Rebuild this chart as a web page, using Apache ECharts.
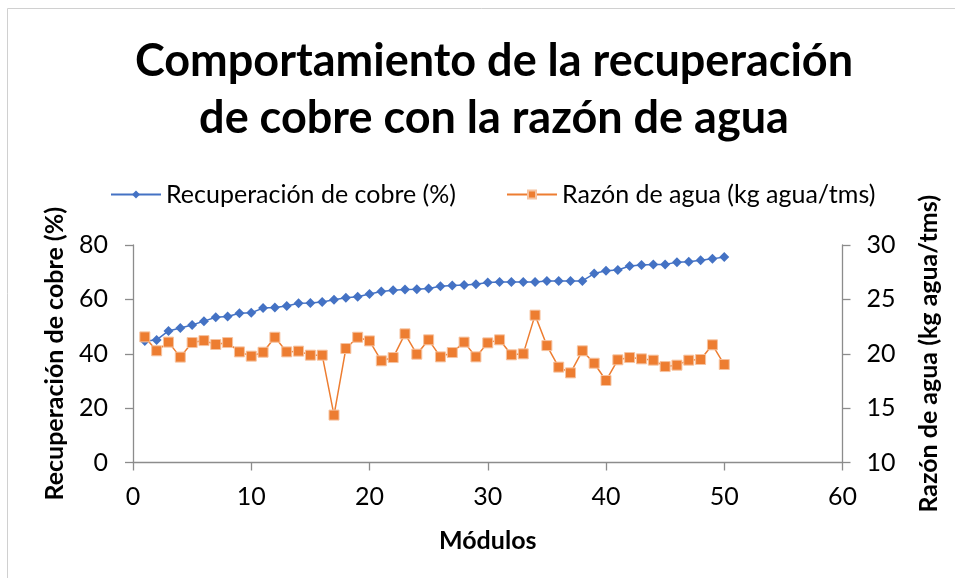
<!DOCTYPE html>
<html>
<head>
<meta charset="utf-8">
<script src="https://cdn.jsdelivr.net/npm/echarts@6/dist/echarts.min.js"></script>
<style>
  html, body { margin: 0; padding: 0; background: #fff; }
  #chart { width: 955px; height: 578px; }
</style>
</head>
<body>
<div id="chart"></div>
<script>
// Módulos 1..50
const modulos = [1,2,3,4,5,6,7,8,9,10,11,12,13,14,15,16,17,18,19,20,
  21,22,23,24,25,26,27,28,29,30,31,32,33,34,35,36,37,38,39,40,
  41,42,43,44,45,46,47,48,49,50];

// Recuperación de cobre (%)
const recuperacion = [44.7,45.1,48.4,49.5,50.6,52.0,53.4,53.7,54.9,55.1,
  56.8,57.0,57.6,58.6,58.7,59.0,59.9,60.6,61.0,62.0,
  62.9,63.4,63.6,63.7,64.0,64.8,65.1,65.3,65.6,66.2,
  66.4,66.4,66.4,66.4,66.8,66.8,66.8,66.8,69.5,70.5,
  70.8,72.3,72.6,72.8,72.8,73.7,73.8,74.4,74.9,75.6];

// Razón de agua (kg agua/tms)
const razonAgua = [21.55,20.27,21.07,19.69,21.03,21.21,20.85,21.03,20.17,19.78,
  20.14,21.52,20.17,20.24,19.87,19.87,14.36,20.48,21.52,21.18,
  19.35,19.65,21.83,19.96,21.28,19.71,20.11,21.07,19.71,21.00,
  21.28,19.90,19.99,23.55,20.75,18.77,18.24,20.27,19.13,17.54,
  19.44,19.65,19.53,19.41,18.82,18.95,19.41,19.47,20.82,19.01];

const xTicks = { min: 0, max: 60, interval: 10 };
const yLeftTicks = { min: 0, max: 80, interval: 20 };
const yRightTicks = { min: 10, max: 30, interval: 5 };

const FONT = 'Lato';
const AXIS_COLOR = '#8c8c8c';
const TEXT_COLOR = '#000';

const chart = echarts.init(document.getElementById('chart'), null, { renderer: 'canvas' });

const axisCommon = {
  axisLine: { show: true, lineStyle: { color: AXIS_COLOR, width: 1.3 } },
  axisTick: { show: true, length: 8, lineStyle: { color: AXIS_COLOR, width: 1.3 } },
  splitLine: { show: false },
  nameTextStyle: { fontFamily: FONT, fontWeight: 'bold', fontSize: 25, color: TEXT_COLOR },
  nameLocation: 'middle'
};

chart.setOption({
  animation: false,
  backgroundColor: '#fff',
  graphic: [{
    type: 'rect',
    shape: { x: 7.5, y: 8.5, width: 960, height: 590 },
    style: { fill: 'none', stroke: '#d0d0d0', lineWidth: 1 },
    silent: true
  }],
  title: {
    text: 'Comportamiento de la recuperación\nde cobre con la razón de agua',
    left: 489,
    top: 28,
    textAlign: 'center',
    textStyle: { fontFamily: FONT, fontWeight: 'bold', fontSize: 45, lineHeight: 57, color: TEXT_COLOR }
  },
  legend: {
    top: 177,
    left: 105,
    itemWidth: 50,
    itemHeight: 10,
    itemGap: 50,
    textStyle: { fontFamily: FONT, fontSize: 25, color: TEXT_COLOR },
    data: ['Recuperación de cobre (%)', 'Razón de agua (kg agua/tms)']
  },
  grid: { left: 133, right: 112.5, top: 245, bottom: 115.5, containLabel: false },
  xAxis: Object.assign({}, axisCommon, {
    type: 'value',
    min: xTicks.min, max: xTicks.max, interval: xTicks.interval,
    name: 'Módulos',
    nameGap: 66,
    axisLabel: { fontFamily: FONT, fontSize: 25, color: TEXT_COLOR, margin: 22 }
  }),
  yAxis: [
    Object.assign({}, axisCommon, {
      type: 'value',
      position: 'left',
      min: yLeftTicks.min, max: yLeftTicks.max, interval: yLeftTicks.interval,
      name: 'Recuperación de cobre (%)',
      nameRotate: 90,
      nameGap: 66,
      axisLabel: { fontFamily: FONT, fontSize: 25, color: TEXT_COLOR, margin: 25 }
    }),
    Object.assign({}, axisCommon, {
      type: 'value',
      position: 'right',
      min: yRightTicks.min, max: yRightTicks.max, interval: yRightTicks.interval,
      name: 'Razón de agua (kg agua/tms)',
      nameRotate: 90,
      nameGap: 74,
      axisLabel: { fontFamily: FONT, fontSize: 25, color: TEXT_COLOR, margin: 24 }
    })
  ],
  series: [
    {
      name: 'Recuperación de cobre (%)',
      type: 'line',
      yAxisIndex: 0,
      data: modulos.map((m, i) => [m, recuperacion[i]]),
      symbol: 'diamond',
      symbolSize: 10,
      lineStyle: { color: '#4472C4', width: 1.5 },
      itemStyle: { color: '#4472C4' },
      z: 2
    },
    {
      name: 'Razón de agua (kg agua/tms)',
      type: 'line',
      yAxisIndex: 1,
      data: modulos.map((m, i) => [m, razonAgua[i]]),
      symbol: 'rect',
      symbolSize: 10,
      lineStyle: { color: '#ED7D31', width: 1.5 },
      itemStyle: { color: '#ED7D31', borderColor: '#F6C3A0', borderWidth: 1 },
      z: 3
    }
  ]
});
</script>
</body>
</html>
